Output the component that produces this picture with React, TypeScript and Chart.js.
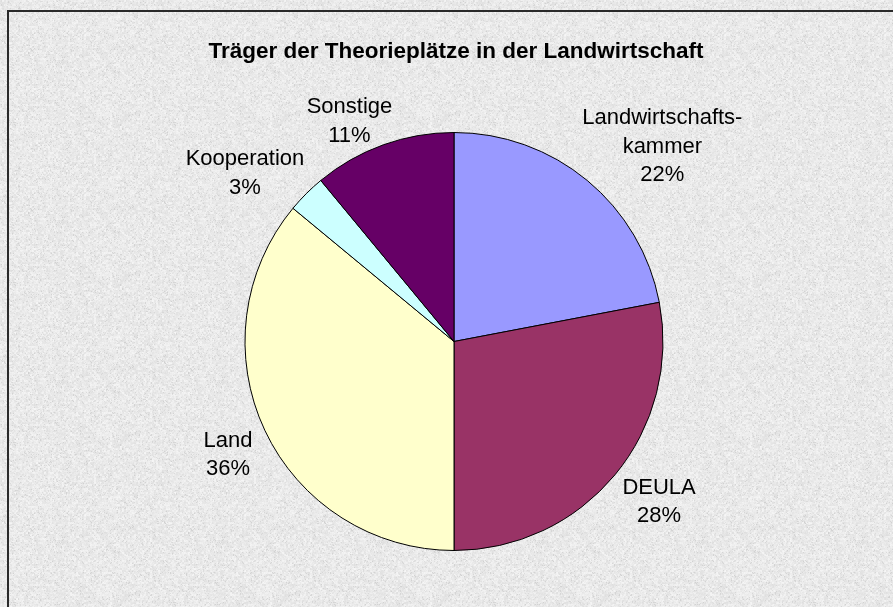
import React, { useEffect, useRef } from "react";
import { Chart, registerables } from "chart.js";

Chart.register(...registerables);

const TITLE = "Träger der Theorieplätze in der Landwirtschaft";
const categories = ["Landwirtschafts-\nkammer", "DEULA", "Land", "Kooperation", "Sonstige"];
const shares = [22, 28, 36, 3, 11];
const sliceColors = ["#9999FF", "#993366", "#FFFFCC", "#CCFFFF", "#660066"];

const W = 893;
const H = 607;
const FONT = "Arial, 'Liberation Sans', sans-serif";

function makeTexture(): HTMLCanvasElement {
  const c = document.createElement("canvas");
  const S = 160;
  c.width = S;
  c.height = S;
  const ctx = c.getContext("2d")!;
  const img = ctx.createImageData(S, S);
  const hash = (x: number, y: number) => {
    let h = (x * 374761393 + y * 668265263) | 0;
    h = ((h ^ (h >>> 13)) * 1274126177) | 0;
    h = h ^ (h >>> 16);
    return ((h >>> 0) % 1000) / 1000;
  };
  for (let y = 0; y < S; y++) {
    for (let x = 0; x < S; x++) {
      const a = hash(x >> 1, y >> 1);
      const b = hash(x + 17, y + 31);
      let v = 234 + (a - 0.5) * 16 + (b - 0.5) * 10;
      if (b > 0.93) v -= 22;
      const i = (y * S + x) * 4;
      img.data[i] = v;
      img.data[i + 1] = v;
      img.data[i + 2] = v;
      img.data[i + 3] = 255;
    }
  }
  ctx.putImageData(img, 0, 0);
  return c;
}

const backgroundPlugin = {
  id: "bgFrame",
  beforeDraw(chart: any) {
    const ctx = chart.ctx as CanvasRenderingContext2D;
    ctx.save();
    const pat = ctx.createPattern(makeTexture(), "repeat");
    ctx.fillStyle = pat || "#E8E8E8";
    ctx.fillRect(0, 0, W, H);
    ctx.strokeStyle = "#2a2a2a";
    ctx.lineWidth = 2;
    ctx.strokeRect(8, 11, W + 50, H + 50);
    ctx.fillStyle = "#000";
    ctx.font = `bold 22.5px ${FONT}`;
    ctx.textAlign = "center";
    ctx.textBaseline = "middle";
    ctx.fillText(TITLE, 456, 52);
    ctx.restore();
  },
};

const labelPlugin = {
  id: "outsideLabels",
  afterDatasetsDraw(chart: any) {
    const ctx = chart.ctx as CanvasRenderingContext2D;
    const meta = chart.getDatasetMeta(0);
    const total = shares.reduce((s, v) => s + v, 0);
    const lineH = 28.5;
    const gapX = 15;
    const gapY = 0;
    ctx.save();
    ctx.font = `22px ${FONT}`;
    ctx.fillStyle = "#000";
    ctx.textAlign = "center";
    ctx.textBaseline = "middle";
    meta.data.forEach((arc: any, i: number) => {
      const { x, y, startAngle, endAngle, outerRadius } = arc.getProps(
        ["x", "y", "startAngle", "endAngle", "outerRadius"],
        true
      );
      const mid = (startAngle + endAngle) / 2;
      const dx = Math.cos(mid);
      const dy = Math.sin(mid);
      const lines = categories[i].split("\n");
      lines.push(`${Math.round((shares[i] / total) * 100)}%`);
      const w = Math.max(...lines.map((l) => ctx.measureText(l).width));
      const h = lines.length * lineH;
      const ax = x + dx * (outerRadius + gapX);
      const ay = y + dy * (outerRadius + gapY);
      const cx = ax + (dx * 0.5 + Math.sign(dx) * 0.5) * (w / 2);
      const cy = ay + (dy * 0.5 + Math.sign(dy) * 0.5) * (h / 2) + 4;
      lines.forEach((l, k) => {
        ctx.fillText(l, cx, cy + (k - (lines.length - 1) / 2) * lineH);
      });
    });
    ctx.restore();
  },
};

export default function App() {
  const ref = useRef<HTMLCanvasElement | null>(null);
  useEffect(() => {
    if (!ref.current) return;
    const chart = new Chart(ref.current, {
      type: "pie",
      data: {
        labels: categories.map((c) => c.replace("\n", "")),
        datasets: [
          {
            data: shares,
            backgroundColor: sliceColors,
            borderColor: "#000000",
            borderWidth: 1,
          },
        ],
      },
      options: {
        responsive: false,
        animation: false,
        devicePixelRatio: 1,
        layout: { padding: { top: 132, bottom: 56, left: 244, right: 229 } },
        plugins: {
          legend: { display: false },
          tooltip: { enabled: false },
          title: { display: false },
        },
      },
      plugins: [backgroundPlugin, labelPlugin],
    });
    return () => chart.destroy();
  }, []);
  return (
    <div style={{ position: "absolute", left: 0, top: 0, width: W, height: H }}>
      <canvas ref={ref} width={W} height={H} style={{ display: "block", width: W, height: H }} />
    </div>
  );
}
